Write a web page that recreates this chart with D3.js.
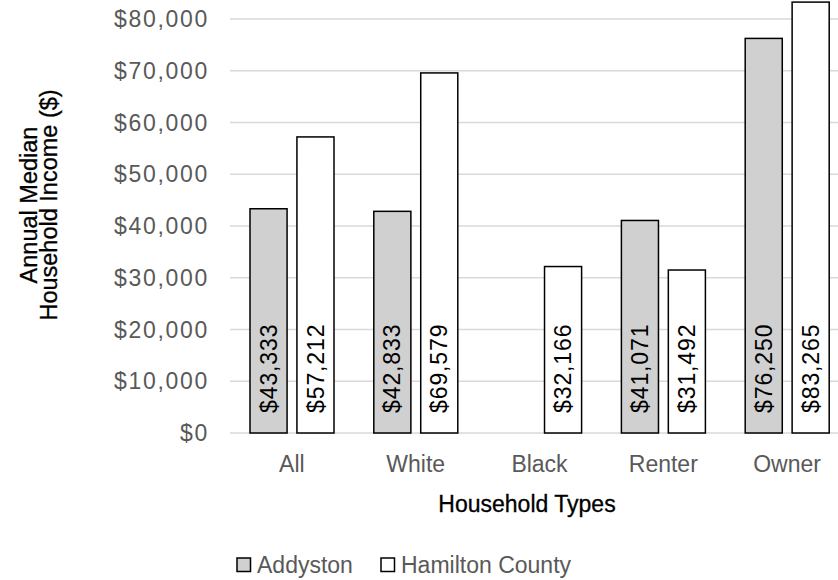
<!DOCTYPE html>
<html>
<head>
<meta charset="utf-8">
<script src="https://cdn.jsdelivr.net/npm/d3@7"></script>
<style>
  html, body { margin: 0; padding: 0; background: #fff; }
  svg { display: block; font-family: "Liberation Sans", Arial, sans-serif; }
</style>
</head>
<body>
<div id="chart"></div>
<script>
// data
const categories = ["All", "White", "Black", "Renter", "Owner"];
const seriesNames = ["Addyston", "Hamilton County"];
const addyston = [43333, 42833, null, 41071, 76250];
const hamilton = [57212, 69579, 32166, 31492, 83265];
const yTicks = [0, 10000, 20000, 30000, 40000, 50000, 60000, 70000, 80000];
const fills = ["#d0d0d0", "#ffffff"];

const width = 838, height = 580;

const svg = d3.select("#chart").append("svg")
  .attr("width", width)
  .attr("height", height);

const y = d3.scaleLinear().domain([0, 80000]).range([433, 19]);
const x0 = d3.scaleBand().domain(categories).range([230, 849]).padding(0);
const x1 = d3.scaleBand().domain(seriesNames).range([20, 104]).paddingInner(0.21);

const fmt = d3.format("$,");

// gridlines
svg.append("g")
  .selectAll("line")
  .data(yTicks)
  .enter().append("line")
  .attr("x1", 230)
  .attr("x2", width)
  .attr("y1", d => y(d))
  .attr("y2", d => y(d))
  .attr("stroke", "#d9d9d9")
  .attr("stroke-width", 1.5);

// y tick labels
svg.append("g")
  .selectAll("text")
  .data(yTicks)
  .enter().append("text")
  .attr("x", 209)
  .attr("y", d => y(d))
  .attr("dy", "0.35em")
  .attr("text-anchor", "end")
  .attr("fill", "#595959")
  .style("font-size", "23px")
  .style("letter-spacing", "1.7px")
  .text(d => fmt(d));

const rows = [];
categories.forEach((c, i) => {
  rows.push({ cat: c, series: seriesNames[0], value: addyston[i], fill: fills[0] });
  rows.push({ cat: c, series: seriesNames[1], value: hamilton[i], fill: fills[1] });
});
const bars = rows.filter(d => d.value != null);

// bars
svg.append("g")
  .selectAll("rect")
  .data(bars)
  .enter().append("rect")
  .attr("x", d => x0(d.cat) + x1(d.series))
  .attr("y", d => y(d.value))
  .attr("width", x1.bandwidth())
  .attr("height", d => y(0) - y(d.value))
  .attr("fill", d => d.fill)
  .attr("stroke", "#000")
  .attr("stroke-width", 1.5);

// value labels (vertical, inside bars)
svg.append("g")
  .selectAll("text")
  .data(bars)
  .enter().append("text")
  .attr("transform", d => `translate(${x0(d.cat) + x1(d.series) + x1.bandwidth() / 2},413) rotate(-90)`)
  .attr("dy", "0.35em")
  .attr("text-anchor", "start")
  .attr("fill", "#000")
  .style("font-size", "23px")
  .style("letter-spacing", "0.9px")
  .text(d => fmt(d.value));

// category labels
svg.append("g")
  .selectAll("text")
  .data(categories)
  .enter().append("text")
  .attr("x", d => x0(d) + x0.bandwidth() / 2)
  .attr("y", 472)
  .attr("text-anchor", "middle")
  .attr("fill", "#595959")
  .style("font-size", "23px")
  .text(d => d);

// axis titles
svg.append("text")
  .attr("x", 527)
  .attr("y", 512)
  .attr("text-anchor", "middle")
  .attr("fill", "#000")
  .style("font-size", "23px")
  .style("stroke", "#000")
  .style("stroke-width", 0.3)
  .text("Household Types");

const yTitle = svg.append("text")
  .attr("transform", "translate(0,205) rotate(-90)")
  .attr("text-anchor", "middle")
  .attr("fill", "#000")
  .style("font-size", "23.5px")
  .style("stroke", "#000")
  .style("stroke-width", 0.3);
yTitle.append("tspan").attr("x", 0).attr("y", 37).text("Annual Median");
yTitle.append("tspan").attr("x", 0).attr("y", 57).text("Household Income ($)");

// legend
const legendX = [237, 381];
const legend = svg.append("g")
  .selectAll("g")
  .data(seriesNames)
  .enter().append("g")
  .attr("transform", (d, i) => `translate(${legendX[i]},558)`);
legend.append("rect")
  .attr("width", 13.5)
  .attr("height", 13.5)
  .attr("fill", (d, i) => fills[i])
  .attr("stroke", "#000")
  .attr("stroke-width", 1.5);
legend.append("text")
  .attr("x", 20)
  .attr("y", 15)
  .attr("fill", "#595959")
  .style("font-size", "23px")
  .text(d => d);
</script>
</body>
</html>
